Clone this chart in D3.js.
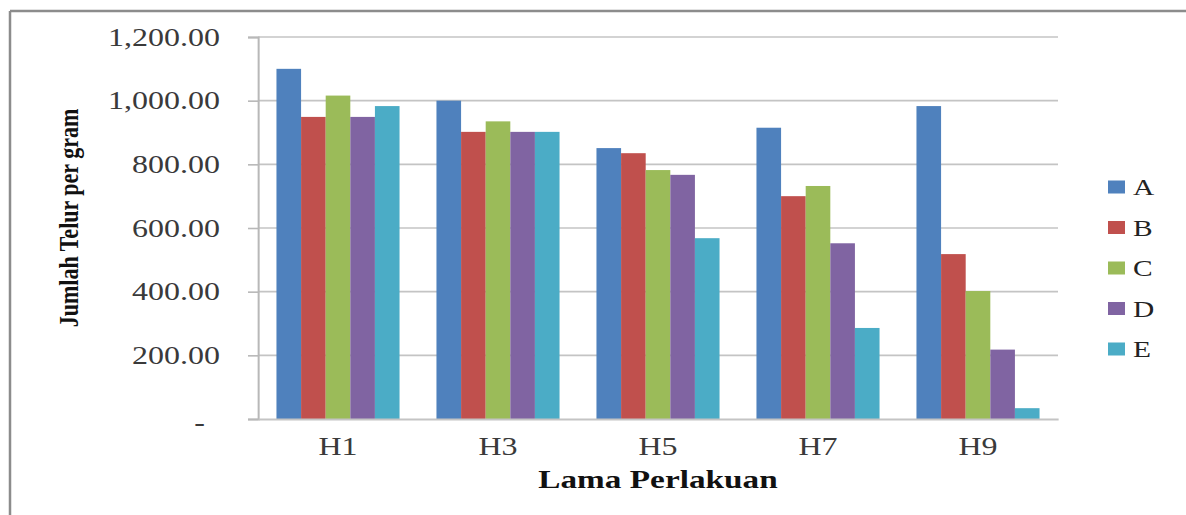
<!DOCTYPE html>
<html>
<head>
<meta charset="utf-8">
<script src="https://cdn.jsdelivr.net/npm/d3@7"></script>
<style>
  body { margin: 0; background: #fff; }
  svg { display: block; }
</style>
</head>
<body>
<div id="chart"></div>
<script>
// categories and series
const categories = ["H1", "H3", "H5", "H7", "H9"];
const seriesNames = ["A", "B", "C", "D", "E"];
const valuesA = [1100, 1000, 851, 915, 983];
const valuesB = [949, 902, 835, 700, 518];
const valuesC = [1016, 935, 782, 732, 402];
const valuesD = [949, 902, 767, 552, 218];
const valuesE = [983, 902, 568, 286, 34];
const yTicks = [0, 200, 400, 600, 800, 1000, 1200];

const colors = {
    A: "#4F81BD",
    B: "#C0504D",
    C: "#9BBB59",
    D: "#8064A2",
    E: "#4BACC6"
};

// the reference picture is stretched sideways, so draw in a narrower
// coordinate space and let the viewBox stretch it
const W = 1186, H = 515, SX = 1.28;
const VW = W / SX;

const svg = d3.select("#chart")
    .append("svg")
    .attr("width", W)
    .attr("height", H)
    .attr("viewBox", `0 0 ${VW} ${H}`)
    .attr("preserveAspectRatio", "none");

const plot = { left: 258 / SX, right: 1058 / SX, top: 37, bottom: 419 };

// outer frame (only top and left edges are visible)
svg.append("line")
    .attr("x1", 10 / SX).attr("x2", VW).attr("y1", 11).attr("y2", 11)
    .attr("stroke", "#8c8c8c").attr("stroke-width", 2.5)
    .attr("vector-effect", "non-scaling-stroke");
svg.append("line")
    .attr("x1", 10 / SX).attr("x2", 10 / SX).attr("y1", 11).attr("y2", H)
    .attr("stroke", "#8c8c8c").attr("stroke-width", 2.5)
    .attr("vector-effect", "non-scaling-stroke");

const y = d3.scaleLinear()
    .domain([0, 1200])
    .range([plot.bottom, plot.top]);

const x0 = d3.scaleBand()
    .domain(categories)
    .range([plot.left, plot.right])
    .paddingInner(0);

const x1 = d3.scaleBand()
    .domain(seriesNames)
    .range([0, x0.bandwidth()])
    .paddingInner(0)
    .paddingOuter(0.75);

// gridlines
svg.append("g")
    .selectAll("line")
    .data(yTicks.filter(d => d > 0))
    .enter()
    .append("line")
    .attr("x1", plot.left).attr("x2", plot.right)
    .attr("y1", d => y(d)).attr("y2", d => y(d))
    .attr("stroke", "#c4c4c4").attr("stroke-width", 1.6)
    .attr("vector-effect", "non-scaling-stroke");

// bars
const table = categories.map((c, i) => ({
    cat: c,
    vals: [
        { key: "A", v: valuesA[i] },
        { key: "B", v: valuesB[i] },
        { key: "C", v: valuesC[i] },
        { key: "D", v: valuesD[i] },
        { key: "E", v: valuesE[i] }
    ]
}));

svg.append("g")
    .selectAll("g")
    .data(table)
    .enter()
    .append("g")
    .attr("transform", d => `translate(${x0(d.cat)},0)`)
    .selectAll("rect")
    .data(d => d.vals)
    .enter()
    .append("rect")
    .attr("x", d => x1(d.key))
    .attr("width", x1.bandwidth())
    .attr("y", d => y(d.v))
    .attr("height", d => y(0) - y(d.v))
    .attr("fill", d => colors[d.key]);

// y axis
const yAxis = svg.append("g")
    .attr("transform", `translate(${plot.left},0)`)
    .call(d3.axisLeft(y)
        .tickValues(yTicks)
        .tickSize(10 / SX)
        .tickPadding(28 / SX)
        .tickFormat(d => d === 0 ? "-" : d3.format(",.2f")(d)));
yAxis.select(".domain")
    .attr("stroke", "#b8b8b8").attr("stroke-width", 2)
    .attr("vector-effect", "non-scaling-stroke");
yAxis.selectAll(".tick line")
    .attr("stroke", "#b8b8b8").attr("stroke-width", 1.6)
    .attr("vector-effect", "non-scaling-stroke");
yAxis.selectAll(".tick text")
    .attr("fill", "#3a3a3a")
    .style("font-family", "'Liberation Serif', 'Times New Roman', serif")
    .style("font-size", "25px")
    .attr("dx", d => d === 0 ? -15 / SX : 0)
    .attr("dy", d => d === 0 ? "0.45em" : "0.32em");

// x axis
const xAxis = svg.append("g")
    .attr("transform", `translate(0,${plot.bottom})`)
    .call(d3.axisBottom(x0).tickSize(0).tickPadding(18));
xAxis.select(".domain")
    .attr("stroke", "#c4c4c4").attr("stroke-width", 2)
    .attr("vector-effect", "non-scaling-stroke");
xAxis.selectAll(".tick text")
    .attr("fill", "#3a3a3a")
    .style("font-family", "'Liberation Serif', 'Times New Roman', serif")
    .style("font-size", "25px");

// axis titles
svg.append("text")
    .attr("x", (plot.left + plot.right) / 2)
    .attr("y", 488)
    .attr("text-anchor", "middle")
    .style("font-family", "'Liberation Serif', 'Times New Roman', serif")
    .style("font-size", "26px")
    .style("font-weight", "bold")
    .attr("fill", "#111")
    .text("Lama Perlakuan");

svg.append("text")
    .attr("transform", `translate(${78 / SX},218) rotate(-90)`)
    .attr("text-anchor", "middle")
    .style("font-family", "'Liberation Serif', 'Times New Roman', serif")
    .style("font-size", "22px")
    .style("font-weight", "bold")
    .attr("fill", "#111")
    .text("Jumlah Telur per gram");

// legend
const legend = svg.append("g")
    .selectAll("g")
    .data(seriesNames)
    .enter()
    .append("g")
    .attr("transform", (d, i) => `translate(${1108 / SX},${187 + i * 40.5})`);

legend.append("rect")
    .attr("x", 0).attr("y", -6.5)
    .attr("width", 17 / SX).attr("height", 13)
    .attr("fill", d => colors[d]);

legend.append("text")
    .attr("x", 25 / SX)
    .attr("y", 8)
    .style("font-family", "'Liberation Serif', 'Times New Roman', serif")
    .style("font-size", "23px")
    .attr("fill", "#222")
    .text(d => d);
</script>
</body>
</html>
